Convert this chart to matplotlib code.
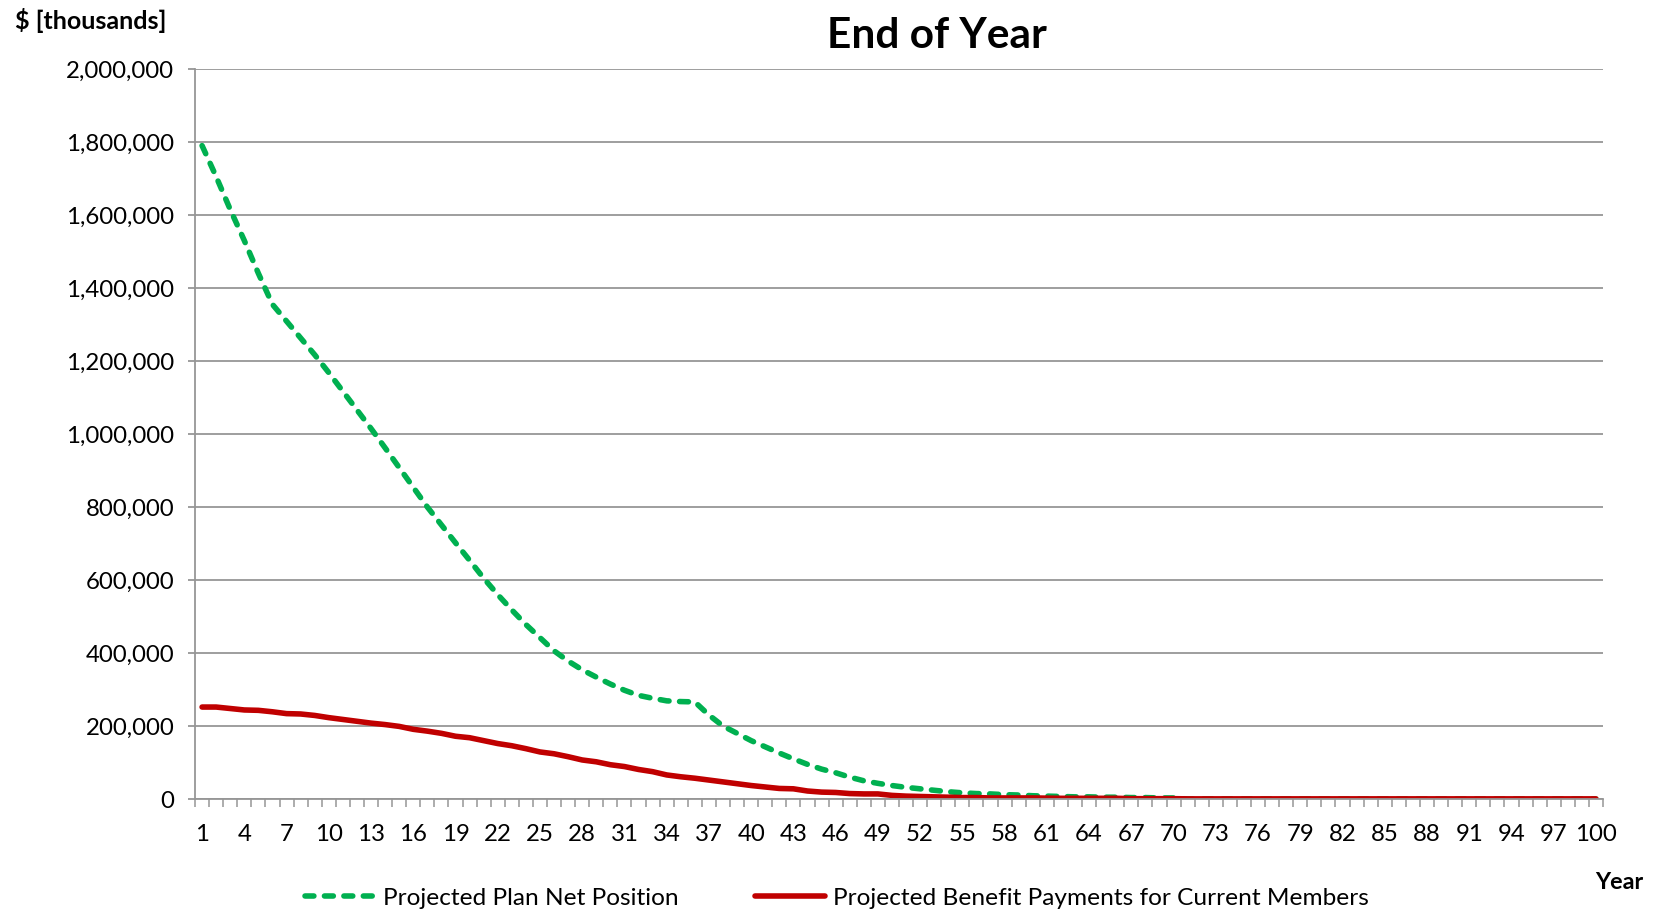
import matplotlib.pyplot as plt
from matplotlib.ticker import FuncFormatter, MultipleLocator, FixedLocator

plt.rcParams['font.family'] = ['Lato', 'DejaVu Sans']

years = list(range(1, 101))

# Projected Plan Net Position, $ thousands
net_position = [1790000, 1705000, 1615000, 1530000, 1440000, 1355000, 1309000, 1263000, 1217000, 1168000,
                1117000, 1066000, 1015000, 962000, 908000, 854000, 800000, 751000, 702000, 654000,
                605000, 560000, 518000, 478000, 442000, 406000, 378000, 354000, 334000, 315000,
                298000, 284000, 276000, 269000, 267000, 266000, 230000, 200000, 180000, 160000,
                143000, 126000, 110000, 95000, 82000, 72000, 60000, 50000, 43000, 37000,
                32000, 28000, 24000, 20000, 17000, 15000, 14000, 12000, 11000, 9000,
                8000, 7000, 6000, 6000, 5000, 5000, 4000, 4000, 3000, 3000] + [0] * 30

# Projected Benefit Payments for Current Members, $ thousands
benefits = [252000, 252000, 248000, 244000, 243000, 239000, 234000, 233000, 229000, 223000,
            218000, 213000, 208000, 204000, 199000, 191000, 186000, 180000, 172000, 168000,
            160000, 152000, 146000, 138000, 129000, 124000, 116000, 107000, 102000, 94000,
            89000, 81000, 75000, 66000, 61000, 57000, 52000, 47000, 42000, 37000,
            33000, 29000, 28000, 22000, 19000, 18000, 15000, 14000, 14000, 10000,
            8000, 7000, 6000, 5000, 4000, 4000, 3000, 3000, 3000, 3000,
            2500, 2000, 2000, 2000, 2000, 2000, 1000, 1000, 1000, 1000] + [500] * 30

tick_years = list(range(1, 101, 3))
grid_color = '#969696'

fig = plt.figure(figsize=(16.57, 9.11), dpi=100)
ax = fig.add_axes([0.1177, 0.1229, 0.8497, 0.8014])

ax.plot(years, net_position, color='#00B050', lw=4, dashes=(1.6, 1.9),
        dash_capstyle='round', label='Projected Plan Net Position')
ax.plot(years, benefits, color='#C00000', lw=4, solid_capstyle='round',
        label='Projected Benefit Payments for Current Members')

ax.set_xlim(0.5, 100.5)
ax.set_ylim(0, 2000000)
ax.yaxis.set_major_locator(MultipleLocator(200000))
ax.yaxis.set_major_formatter(FuncFormatter(lambda v, p: '{:,.0f}'.format(v)))
ax.xaxis.set_major_locator(FixedLocator(tick_years))
ax.xaxis.set_minor_locator(FixedLocator([y + 0.5 for y in range(0, 101)]))

ax.grid(axis='y', color=grid_color, lw=1.3)
ax.set_axisbelow(True)
for side in ['top', 'right']:
    ax.spines[side].set_visible(False)
for side in ['left', 'bottom']:
    ax.spines[side].set_color(grid_color)
    ax.spines[side].set_linewidth(1.3)

ax.tick_params(axis='y', length=5, width=1.3, color=grid_color, labelsize=17.3, pad=10)
ax.tick_params(axis='x', which='major', length=0, labelsize=17.3, pad=18)
ax.tick_params(axis='x', which='minor', length=5.5, width=1.1, color=grid_color)

fig.text(0.5655, 0.960, 'End of Year', fontsize=30.5, fontweight='bold', ha='center', va='center')
fig.text(0.009, 0.978, '$ [thousands]', fontsize=18, fontweight='bold', ha='left', va='center')
fig.text(0.977, 0.031, 'Year', fontsize=16.8, fontweight='bold', ha='center', va='center')

fig.legend(loc='center', bbox_to_anchor=(0.505, 0.0143), ncol=2, frameon=False,
           fontsize=17.6, handlelength=2.9, handletextpad=0.3, columnspacing=3.1)

fig.savefig('out.png', dpi=100)
